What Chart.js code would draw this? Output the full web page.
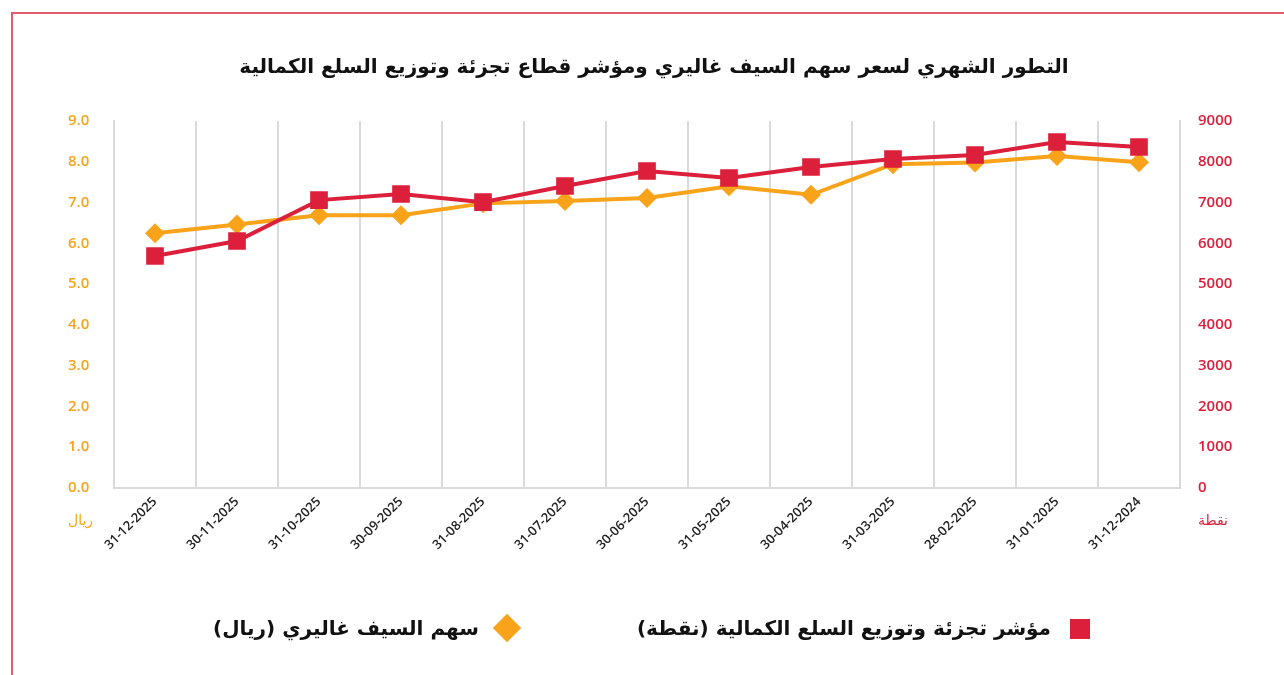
<!DOCTYPE html>
<html><head><meta charset="utf-8">
<script src="https://cdn.jsdelivr.net/npm/chart.js@4.4.1/dist/chart.umd.min.js"></script>
<style>
html,body{margin:0;padding:0;background:#fff;width:1284px;height:675px;overflow:hidden;}
#wrap{position:relative;width:1284px;height:675px;}
#frame{position:absolute;left:11px;top:12px;width:1290px;height:700px;border-left:2px solid #e05d6e;border-top:2px solid #e05d6e;}
canvas{position:absolute;left:0;top:0;}
.unit{position:absolute;font-family:"DejaVu Sans";font-size:14px;line-height:18px;white-space:nowrap;}
.leg{position:absolute;font-family:"DejaVu Sans";font-size:20px;font-weight:bold;color:#111;direction:rtl;white-space:nowrap;line-height:28px;top:614px;}
.mk{position:absolute;}
</style></head>
<body><div id="wrap">
<div id="frame"></div>
<canvas id="c" width="1284" height="675"></canvas>
<div class="unit" id="uL" style="left:68px;top:511px;color:#f9a31a;"></div>
<div class="unit" id="uR" style="left:1198px;top:511px;color:#dc1f3a;"></div>
<div class="mk" style="left:1070px;top:619px;width:20px;height:20px;background:#dc1f3a;"></div>
<div class="leg" id="l1" style="right:233px;"></div>
<div class="mk" style="left:497px;top:618px;width:20px;height:20px;background:#f9a31a;transform:rotate(45deg);"></div>
<div class="leg" id="l2" style="right:805px;"></div>
</div>
<script>
const titleText = 'التطور الشهري لسعر سهم السيف غاليري ومؤشر قطاع تجزئة وتوزيع السلع الكمالية';
const categories = ['31-12-2025','30-11-2025','31-10-2025','30-09-2025','31-08-2025','31-07-2025','30-06-2025','31-05-2025','30-04-2025','31-03-2025','28-02-2025','31-01-2025','31-12-2024'];
const stockName = 'سهم السيف غاليري (ريال)';
const stockValues = [6.25, 6.46, 6.69, 6.69, 6.98, 7.04, 7.11, 7.40, 7.19, 7.94, 7.98, 8.14, 7.99];
const indexName = 'مؤشر تجزئة وتوزيع السلع الكمالية (نقطة)';
const indexValues = [5690, 6057, 7060, 7210, 7010, 7406, 7774, 7602, 7872, 8068, 8166, 8485, 8362];
const leftTicks = {min: 0, max: 9, step: 1};
const rightTicks = {min: 0, max: 9000, step: 1000};
const leftUnit = 'ريال';
const rightUnit = 'نقطة';

const RED = '#dc1f3a', ORANGE = '#f9a31a', GRID = '#dadada';
document.getElementById('l1').textContent = indexName;
document.getElementById('l2').textContent = stockName;
document.getElementById('uL').textContent = leftUnit;
document.getElementById('uR').textContent = rightUnit;

new Chart(document.getElementById('c'), {
  type: 'line',
  data: {
    labels: categories,
    datasets: [
      {label: indexName, data: indexValues, yAxisID: 'yR', borderColor: RED, backgroundColor: RED,
       borderWidth: 4, pointStyle: 'rect', pointRadius: 12.5, pointHoverRadius: 12.5, pointBorderWidth: 0, tension: 0},
      {label: stockName, data: stockValues, yAxisID: 'yL', borderColor: ORANGE, backgroundColor: ORANGE,
       borderWidth: 4, pointStyle: 'rectRot', pointRadius: 10, pointHoverRadius: 10, pointBorderWidth: 0, tension: 0, order: 1}
    ]
  },
  options: {
    responsive: false,
    animation: false,
    layout: {padding: {left: 68, right: 44, top: 0, bottom: 87}},
    plugins: {
      legend: {display: false},
      tooltip: {enabled: false},
      title: {display: true, text: titleText, color: '#111',
        font: {family: 'DejaVu Sans', size: 20, weight: 'bold', lineHeight: 1.2},
        padding: {top: 56, bottom: 41}}
    },
    scales: {
      x: {
        offset: true,
        grid: {display: true, offset: true, color: GRID, lineWidth: 2, drawTicks: false},
        border: {display: true, color: GRID, width: 2},
        ticks: {color: '#222', font: {family: 'Open Sans', size: 13, weight: '600'}, maxRotation: 45, minRotation: 45, padding: 6, autoSkip: false},
        afterFit: s => { s.height = 100; }
      },
      yL: {
        position: 'left', min: leftTicks.min, max: leftTicks.max,
        grid: {display: false, drawTicks: false},
        border: {display: true, color: GRID, width: 2},
        ticks: {stepSize: leftTicks.step, color: ORANGE, crossAlign: 'far', padding: 10,
          font: {family: 'Open Sans', size: 15, weight: '600'}, callback: v => Number(v).toFixed(1)},
        afterFit: s => { s.width = 46; }
      },
      yR: {
        position: 'right', min: rightTicks.min, max: rightTicks.max,
        grid: {display: false, drawTicks: false},
        border: {display: true, color: GRID, width: 2},
        ticks: {stepSize: rightTicks.step, color: RED, padding: 18,
          font: {family: 'Open Sans', size: 15, weight: '600'}, callback: v => String(v)},
        afterFit: s => { s.width = 60; }
      }
    }
  }
});
</script>
</body></html>
